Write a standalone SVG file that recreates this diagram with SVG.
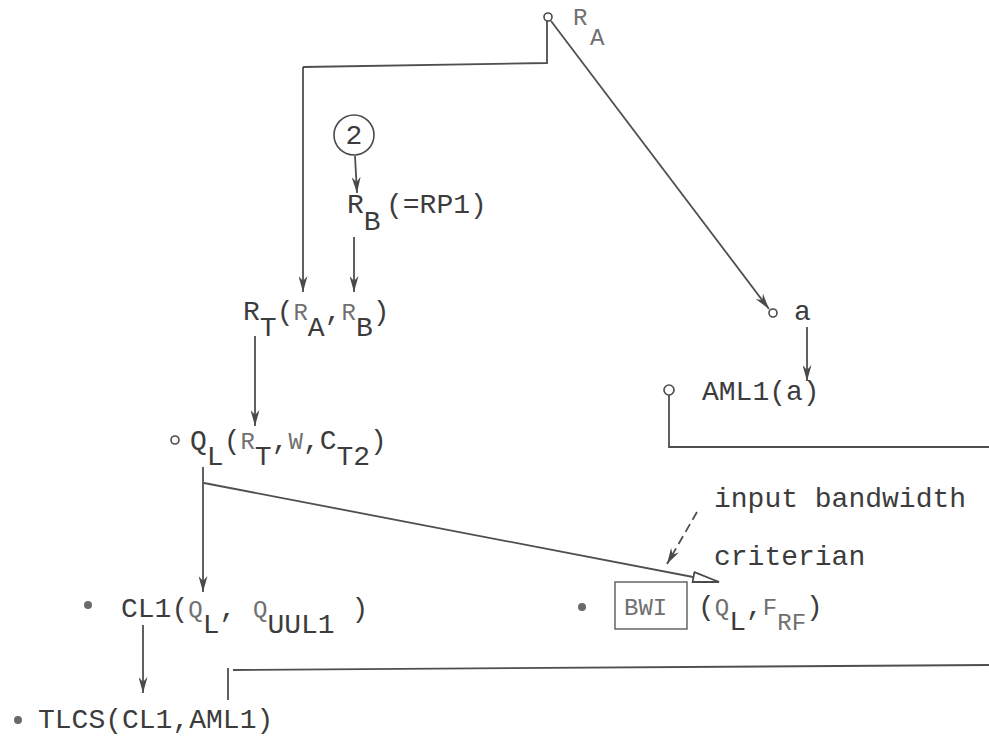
<svg xmlns="http://www.w3.org/2000/svg" width="989" height="740" viewBox="0 0 989 740">
<defs>
<marker id="arr" viewBox="0 0 16 9" refX="16" refY="4.5" markerWidth="16" markerHeight="9" markerUnits="userSpaceOnUse" orient="auto">
<path d="M0,0 L16,4.5 L0,9 L5,4.5 z" fill="#4a4a4a"/>
</marker>
<marker id="hollow" viewBox="0 0 28 12" refX="27" refY="6" markerWidth="28" markerHeight="12" markerUnits="userSpaceOnUse" orient="auto">
<path d="M1,1 L27,6 L1,11 z" fill="#fff" stroke="#4a4a4a" stroke-width="1.8"/>
</marker>
</defs>
<style>
text{font-family:"Liberation Mono","DejaVu Sans Mono",monospace;font-size:28px;fill:#3c3c3c}
.sm{font-size:24px;fill:#707070}
.ln{fill:none;stroke:#4f4f4f;stroke-width:1.8}
.ar{fill:none;stroke:#4f4f4f;stroke-width:1.8;marker-end:url(#arr)}
.pt{fill:#fff;stroke:#4a4a4a;stroke-width:1.6}
.dot{fill:#6a6a6a}
</style>
<rect width="989" height="740" fill="#fff"/>
<g id="connectors">
<path class="ln" d="M547,21 L547,63 L303,67"/>
<path class="ar" d="M303,67 L303,292"/>
<path class="ar" d="M551,21 L769,309"/>
<path class="ar" d="M355,156 L357,193"/>
<path class="ar" d="M354,237 L354,292"/>
<path class="ar" d="M255,336 L255,426"/>
<path class="ar" d="M807,327 L807,381"/>
<path class="ln" d="M669,395 L669,447 L989,447"/>
<path class="ar" d="M203,467 L203,592"/>
<path d="M204,483 L719,582" class="ln" marker-end="url(#hollow)"/>
<path class="ar" d="M143,625 L143,693"/>
<path class="ln" d="M228,668 L228,700"/>
<path class="ln" d="M233,670 L989,665"/>
<path d="M697,512 L667,564" class="ln" stroke-dasharray="9,5" marker-end="url(#arr)"/>
</g>
<g id="RA">
<circle class="pt" cx="548" cy="17" r="4"/>
<text x="573" y="25" class="sm">R<tspan x="590" y="45">A</tspan></text>
</g>
<g id="n2">
<circle cx="354" cy="135" r="20" fill="none" stroke="#4a4a4a" stroke-width="1.6"/>
<text x="354" y="144" text-anchor="middle" font-size="24">2</text>
</g>
<g id="RB">
<text x="347" y="213">R<tspan y="230">B</tspan><tspan x="386" y="213">(=RP1)</tspan></text>
</g>
<g id="RT">
<text x="243" y="320">R<tspan y="336">T</tspan><tspan y="320">(</tspan><tspan class="sm">R</tspan><tspan y="336">A</tspan><tspan y="320">,</tspan><tspan class="sm">R</tspan><tspan y="336">B</tspan><tspan y="320">)</tspan></text>
</g>
<g id="a">
<circle class="pt" cx="773" cy="313" r="4"/>
<text x="794" y="320">a</text>
</g>
<g id="AML1">
<circle class="pt" cx="669" cy="390" r="5"/>
<text x="702" y="400">AML1(a)</text>
</g>
<g id="QL">
<circle class="pt" cx="175" cy="440" r="4"/>
<text x="190" y="449">Q<tspan y="465">L</tspan><tspan y="449">(</tspan><tspan class="sm">R</tspan><tspan y="465">T</tspan><tspan y="449">,</tspan><tspan class="sm">W</tspan><tspan>,C</tspan><tspan y="465">T2</tspan><tspan y="449">)</tspan></text>
</g>
<g id="CL1">
<circle class="dot" cx="88" cy="605" r="4"/>
<text x="121" y="617">CL1(<tspan class="sm">Q</tspan><tspan y="633">L</tspan><tspan y="617">, </tspan><tspan class="sm">Q</tspan><tspan y="633">UUL1</tspan><tspan y="617"> )</tspan></text>
</g>
<g id="TLCS">
<circle class="dot" cx="18" cy="720" r="4"/>
<text x="38" y="728">TLCS(CL1,AML1)</text>
</g>
<g id="BWI">
<circle class="dot" cx="582" cy="607" r="4"/>
<rect x="615" y="582" width="72" height="47" fill="none" stroke="#5a5a5a" stroke-width="1.4"/>
<text x="624" y="615" class="sm">BWI</text>
<text x="698" y="615">(<tspan class="sm">Q</tspan><tspan y="630">L</tspan><tspan y="615">,</tspan><tspan class="sm">F</tspan><tspan y="630" class="sm">RF</tspan><tspan y="615">)</tspan></text>
</g>
<g id="note">
<text x="714" y="507">input bandwidth</text>
<text x="714" y="565">criterian</text>
</g>
</svg>
